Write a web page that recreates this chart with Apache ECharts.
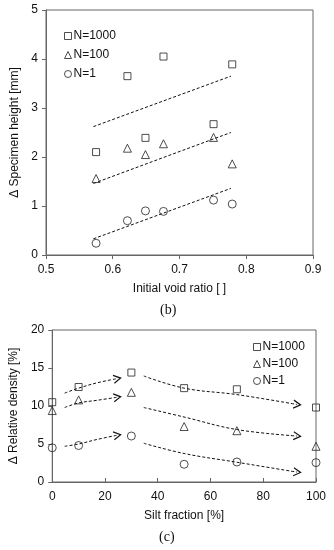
<!DOCTYPE html>
<html>
<head>
<meta charset="utf-8">
<script src="https://cdn.jsdelivr.net/npm/echarts@6/dist/echarts.min.js"></script>
<style>
html,body{margin:0;padding:0;background:#fff;}
#c{width:334px;height:550px;}
</style>
</head>
<body>
<div id="c"></div>
<script>
// ---- Panel (b): void ratio vs specimen height ----
const voidRatio = [0.575, 0.622, 0.649, 0.676, 0.751, 0.779];
const heightN1000 = [2.10, 3.65, 2.39, 4.05, 2.67, 3.89];
const heightN100 = [1.56, 2.18, 2.05, 2.27, 2.40, 1.86];
const heightN1 = [0.24, 0.70, 0.90, 0.89, 1.12, 1.04];
const trendVoid = [0.571, 0.777];
const trendHeightN1000 = [2.62, 3.65];
const trendHeightN100 = [1.46, 2.50];
const trendHeightN1 = [0.33, 1.36];

// ---- Panel (c): silt fraction vs relative density ----
const siltFraction = [0, 10, 30, 50, 70, 100];
const densityN1000 = [10.5, 12.5, 14.4, 12.35, 12.2, 9.8];
const densityN100 = [9.4, 10.8, 11.8, 7.3, 6.75, 4.7];
const densityN1 = [4.5, 4.8, 6.05, 2.33, 2.63, 2.55];
const arrowLeftX = [4.7, 10, 17, 24.6];
const arrowLeftN1000 = [11.7, 12.35, 13.05, 13.6];
const arrowLeftN100 = [9.8, 10.4, 10.75, 11.15];
const arrowLeftN1 = [4.7, 5.0, 5.6, 6.15];
const arrowRightX = [34.7, 50, 70, 92.8];
const arrowRightN1000 = [13.95, 12.35, 11.5, 10.2];
const arrowRightN100 = [9.8, 8.55, 6.9, 6.05];
const arrowRightN1 = [5.1, 3.75, 2.6, 1.3];

const seriesNames = ['N=1000', 'N=100', 'N=1'];
const xTicksB = [0.5, 0.6, 0.7, 0.8, 0.9];
const yTicksB = [0, 1, 2, 3, 4, 5];
const xTicksC = [0, 20, 40, 60, 80, 100];
const yTicksC = [0, 5, 10, 15, 20];

const FONT = 'Liberation Sans';
const AX = '#666';
const INK = '#111';
const symbols = ['rect', 'triangle', 'circle'];
const symSizes = [7, 8, 8];

function zip(xs, ys) { return xs.map((x, i) => [x, ys[i]]); }

const markerStyle = { color: 'rgba(0,0,0,0)', borderColor: '#222', borderWidth: 1 };
function scatter(name, xs, ys, k, idx) {
  return {
    type: 'scatter', name: name, xAxisIndex: idx, yAxisIndex: idx,
    data: zip(xs, ys), symbol: symbols[k], symbolSize: symSizes[k],
    itemStyle: markerStyle, z: 3, silent: true
  };
}
function dashed(name, xs, ys, idx, arrowRot) {
  const data = zip(xs, ys).map((p, i) => {
    if (arrowRot !== undefined && i === xs.length - 1) {
      return { value: p, symbol: 'path://M0,0L10,5L0,10', symbolSize: [7, 8], symbolRotate: arrowRot,
        itemStyle: { color: 'rgba(0,0,0,0)', borderColor: '#111', borderWidth: 1.2 } };
    }
    return { value: p, symbol: 'none' };
  });
  return {
    type: 'line', name: name, xAxisIndex: idx, yAxisIndex: idx, data: data,
    smooth: arrowRot !== undefined ? 0.4 : false, showSymbol: true, symbol: 'none',
    lineStyle: { color: '#111', width: 1, type: [3, 2] }, silent: true, z: 2, animation: false
  };
}

function axisCommon(min, max, interval, ticks, name, nameGap, isY, tickInside) {
  return {
    type: 'value', min: min, max: max, interval: interval,
    name: name, nameLocation: 'middle', nameGap: nameGap,
    nameTextStyle: { fontFamily: FONT, fontSize: 12, color: INK },
    axisLine: { show: true, lineStyle: { color: AX, width: 1 } },
    axisTick: { show: true, inside: !!tickInside, length: 4, lineStyle: { color: AX } },
    splitLine: { show: false },
    axisLabel: { fontFamily: FONT, fontSize: 12, color: INK, margin: isY ? 8 : 9,
      formatter: v => { const t = ticks.find(tv => Math.abs(tv - v) < 1e-9); return t === undefined ? '' : String(t); } }
  };
}

const legendItemStyle = { color: 'rgba(0,0,0,0)', borderColor: '#222', borderWidth: 1 };

const chart = echarts.init(document.getElementById('c'), null, { renderer: 'canvas' });
chart.setOption({
  animation: false,
  backgroundColor: '#fff',
  grid: [
    { left: 46, top: 10, width: 267, height: 245, show: true, borderColor: AX, borderWidth: 1, backgroundColor: 'transparent' },
    { left: 52, top: 330, width: 264, height: 152, show: true, borderColor: AX, borderWidth: 1, backgroundColor: 'transparent' }
  ],
  xAxis: [
    Object.assign(axisCommon(0.5, 0.9, 0.1, xTicksB, 'Initial void ratio [ ]', 28, false, false), { gridIndex: 0 }),
    Object.assign(axisCommon(0, 100, 20, xTicksC, 'Silt fraction [%]', 28, false, true), { gridIndex: 1 })
  ],
  yAxis: [
    Object.assign(axisCommon(0, 5, 1, yTicksB, 'Δ Specimen height [mm]', 25, true, false), { gridIndex: 0 }),
    Object.assign(axisCommon(0, 20, 5, yTicksC, 'Δ Relative density [%]', 27, true, false), { gridIndex: 1 })
  ],
  legend: [
    { data: seriesNames, orient: 'vertical', left: 59, top: 25, itemWidth: 7, itemHeight: 7, itemGap: 7,
      itemStyle: legendItemStyle,
      textStyle: { fontFamily: FONT, fontSize: 12, color: INK, padding: [0, 0, 0, -3] } },
    { data: seriesNames, orient: 'vertical', left: 248, top: 336, itemWidth: 7, itemHeight: 7, itemGap: 5,
      itemStyle: legendItemStyle,
      textStyle: { fontFamily: FONT, fontSize: 12, color: INK, padding: [0, 0, 0, -3] } }
  ],
  graphic: [
    { type: 'text', left: 160, top: 303, style: { text: '(b)', font: '14px "Liberation Serif"', fill: '#111' } },
    { type: 'text', left: 159, top: 530, style: { text: '(c)', font: '14px "Liberation Serif"', fill: '#111' } }
  ],
  series: [
    scatter(seriesNames[0], voidRatio, heightN1000, 0, 0),
    scatter(seriesNames[1], voidRatio, heightN100, 1, 0),
    scatter(seriesNames[2], voidRatio, heightN1, 2, 0),
    dashed('trendB1000', trendVoid, trendHeightN1000, 0),
    dashed('trendB100', trendVoid, trendHeightN100, 0),
    dashed('trendB1', trendVoid, trendHeightN1, 0),
    scatter(seriesNames[0], siltFraction, densityN1000, 0, 1),
    scatter(seriesNames[1], siltFraction, densityN100, 1, 1),
    scatter(seriesNames[2], siltFraction, densityN1, 2, 1),
    dashed('arrowL1000', arrowLeftX, arrowLeftN1000, 1, 10),
    dashed('arrowL100', arrowLeftX, arrowLeftN100, 1, 8),
    dashed('arrowL1', arrowLeftX, arrowLeftN1, 1, 10),
    dashed('arrowR1000', arrowRightX, arrowRightN1000, 1, -6),
    dashed('arrowR100', arrowRightX, arrowRightN100, 1, -5),
    dashed('arrowR1', arrowRightX, arrowRightN1, 1, -6)
  ]
});
</script>
</body>
</html>
